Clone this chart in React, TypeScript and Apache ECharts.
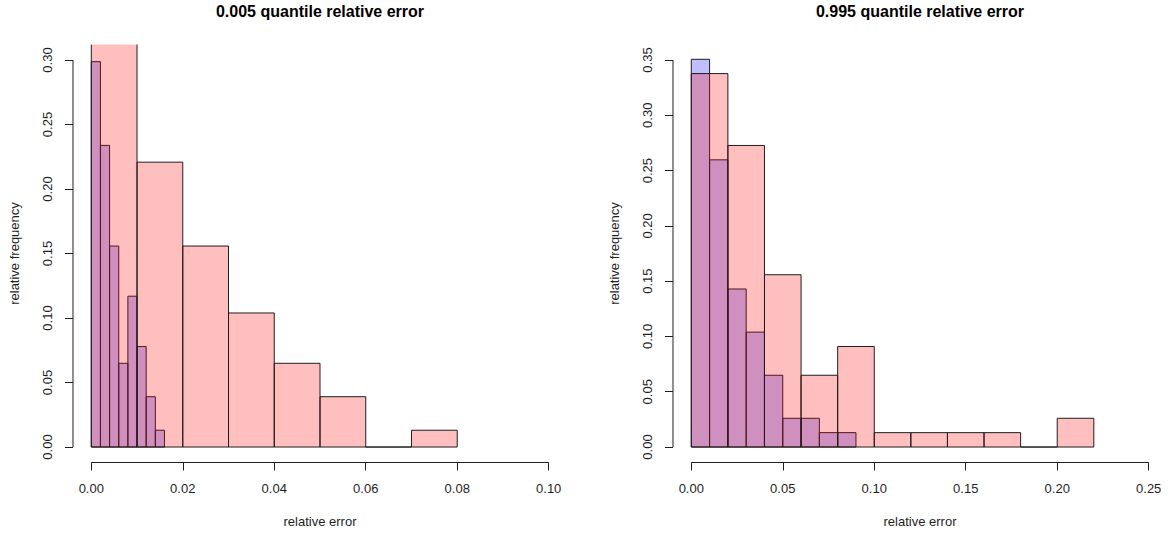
import React, { useEffect, useRef } from "react";
import * as echarts from "echarts";

const leftTitle = "0.005 quantile relative error";
const rightTitle = "0.995 quantile relative error";
const xName = "relative error";
const yName = "relative frequency";

// Left panel (0.005 quantile)
const leftRedBreaks = [0, 0.01, 0.02, 0.03, 0.04, 0.05, 0.06, 0.07, 0.08];
const leftRedFreq = [0.4026, 0.2208, 0.1558, 0.1039, 0.0649, 0.039, 0, 0.013];
const leftBlueBreaks = [0, 0.002, 0.004, 0.006, 0.008, 0.01, 0.012, 0.014, 0.016];
const leftBlueFreq = [0.2987, 0.2338, 0.1558, 0.0649, 0.1169, 0.0779, 0.039, 0.013];

// Right panel (0.995 quantile)
const rightRedBreaks = [0, 0.02, 0.04, 0.06, 0.08, 0.1, 0.12, 0.14, 0.16, 0.18, 0.2, 0.22];
const rightRedFreq = [0.3377, 0.2727, 0.1558, 0.0649, 0.0909, 0.013, 0.013, 0.013, 0.013, 0, 0.026];
const rightBlueBreaks = [0, 0.01, 0.02, 0.03, 0.04, 0.05, 0.06, 0.07, 0.08, 0.09];
const rightBlueFreq = [0.3506, 0.2597, 0.1429, 0.1039, 0.0649, 0.026, 0.026, 0.013, 0.013];

// Tick values
const leftXTicks = [0, 0.02, 0.04, 0.06, 0.08, 0.1];
const leftYTicks = [0, 0.05, 0.1, 0.15, 0.2, 0.25, 0.3];
const rightXTicks = [0, 0.05, 0.1, 0.15, 0.2, 0.25];
const rightYTicks = [0, 0.05, 0.1, 0.15, 0.2, 0.25, 0.3, 0.35];

const FONT = "'Liberation Sans', Arial, Helvetica, sans-serif";
const INK = "#1e1e1e";
const RED = "rgba(255,0,0,0.25)";
const BLUE = "rgba(0,0,255,0.25)";

// R-style 4% axis extension
const ext = (t: number[]) => {
  const r = t[t.length - 1] - t[0];
  return [t[0] - 0.04 * r, t[t.length - 1] + 0.04 * r];
};

const GRID_W = 494;
const GRID_H = 418;
const GRID_TOP = 44.5;
const LEFT_X = 73;
const RIGHT_X = 673;

function histSeries(breaks: number[], freq: number[], idx: number, fill: string) {
  return {
    type: "custom",
    xAxisIndex: idx,
    yAxisIndex: idx,
    silent: true,
    data: freq.map((f, i) => [breaks[i], breaks[i + 1], f]),
    renderItem: (params: any, api: any) => {
      const x0 = api.value(0);
      const x1 = api.value(1);
      const v = api.value(2);
      const p0 = api.coord([x0, 0]);
      const p1 = api.coord([x1, v]);
      const cs = params.coordSys;
      const left = p0[0];
      const right = p1[0];
      const bottom = p0[1];
      const clipped = p1[1] < cs.y;
      const top = clipped ? cs.y : p1[1];
      const children: any[] = [
        {
          type: "rect",
          shape: { x: left, y: top, width: right - left, height: bottom - top },
          style: { fill, stroke: null },
        },
      ];
      if (clipped) {
        children.push({
          type: "polyline",
          shape: { points: [[left, top], [left, bottom], [right, bottom], [right, top]] },
          style: { stroke: INK, lineWidth: 1, fill: null },
        });
      } else {
        children.push({
          type: "rect",
          shape: { x: left, y: top, width: right - left, height: bottom - top },
          style: { fill: null, stroke: INK, lineWidth: 1 },
        });
      }
      return { type: "group", children };
    },
  };
}

function axisLineSeries(xt: number[], yt: number[], idx: number) {
  const xr = ext(xt);
  const yr = ext(yt);
  const base = {
    type: "line",
    xAxisIndex: idx,
    yAxisIndex: idx,
    symbol: "none",
    silent: true,
    clip: false,
    lineStyle: { color: INK, width: 1 },
  };
  return [
    { ...base, data: [[xt[0], yr[0]], [xt[xt.length - 1], yr[0]]] },
    { ...base, data: [[xr[0], yt[0]], [xr[0], yt[yt.length - 1]]] },
  ];
}

function xAxisCfg(ticks: number[], idx: number) {
  const r = ext(ticks);
  return {
    type: "value",
    gridIndex: idx,
    min: r[0],
    max: r[1],
    name: xName,
    nameLocation: "middle",
    nameGap: 52,
    nameTextStyle: { fontFamily: FONT, fontSize: 13, color: INK },
    axisLine: { show: false, onZero: false },
    splitLine: { show: false },
    axisTick: { show: true, length: 8, customValues: ticks, lineStyle: { color: INK } },
    axisLabel: {
      customValues: ticks,
      formatter: (v: number) => v.toFixed(2),
      margin: 19,
      fontFamily: FONT,
      fontSize: 13,
      color: INK,
    },
  };
}

function yAxisCfg(ticks: number[], idx: number) {
  const r = ext(ticks);
  return {
    type: "value",
    gridIndex: idx,
    min: r[0],
    max: r[1],
    name: yName,
    nameLocation: "middle",
    nameGap: 52,
    nameTextStyle: { fontFamily: FONT, fontSize: 13, color: INK },
    axisLine: { show: false, onZero: false },
    splitLine: { show: false },
    axisTick: { show: true, length: 8, customValues: ticks, lineStyle: { color: INK } },
    axisLabel: {
      customValues: ticks,
      formatter: (v: number) => v.toFixed(2),
      rotate: 90,
      margin: 19,
      fontFamily: FONT,
      fontSize: 13,
      color: INK,
    },
  };
}

export default function App() {
  const ref = useRef<HTMLDivElement>(null);
  useEffect(() => {
    if (!ref.current) return;
    const chart = echarts.init(ref.current, null, { renderer: "svg" });
    chart.setOption({
      animation: false,
      backgroundColor: "#ffffff",
      title: [
        {
          text: leftTitle,
          left: LEFT_X + GRID_W / 2,
          top: 3,
          padding: 0,
          textAlign: "center",
          textStyle: { fontFamily: FONT, fontSize: 16, fontWeight: "bold", color: "#000" },
        },
        {
          text: rightTitle,
          left: RIGHT_X + GRID_W / 2,
          top: 3,
          padding: 0,
          textAlign: "center",
          textStyle: { fontFamily: FONT, fontSize: 16, fontWeight: "bold", color: "#000" },
        },
      ],
      grid: [
        { left: LEFT_X, top: GRID_TOP, width: GRID_W, height: GRID_H, containLabel: false },
        { left: RIGHT_X, top: GRID_TOP, width: GRID_W, height: GRID_H, containLabel: false },
      ],
      xAxis: [xAxisCfg(leftXTicks, 0), xAxisCfg(rightXTicks, 1)],
      yAxis: [yAxisCfg(leftYTicks, 0), yAxisCfg(rightYTicks, 1)],
      series: [
        histSeries(leftBlueBreaks, leftBlueFreq, 0, BLUE),
        histSeries(leftRedBreaks, leftRedFreq, 0, RED),
        histSeries(rightBlueBreaks, rightBlueFreq, 1, BLUE),
        histSeries(rightRedBreaks, rightRedFreq, 1, RED),
        ...axisLineSeries(leftXTicks, leftYTicks, 0),
        ...axisLineSeries(rightXTicks, rightYTicks, 1),
      ],
    });
    return () => chart.dispose();
  }, []);
  return (
    <div
      ref={ref}
      style={{ position: "absolute", left: 0, top: 0, width: 1168, height: 535 }}
    />
  );
}
